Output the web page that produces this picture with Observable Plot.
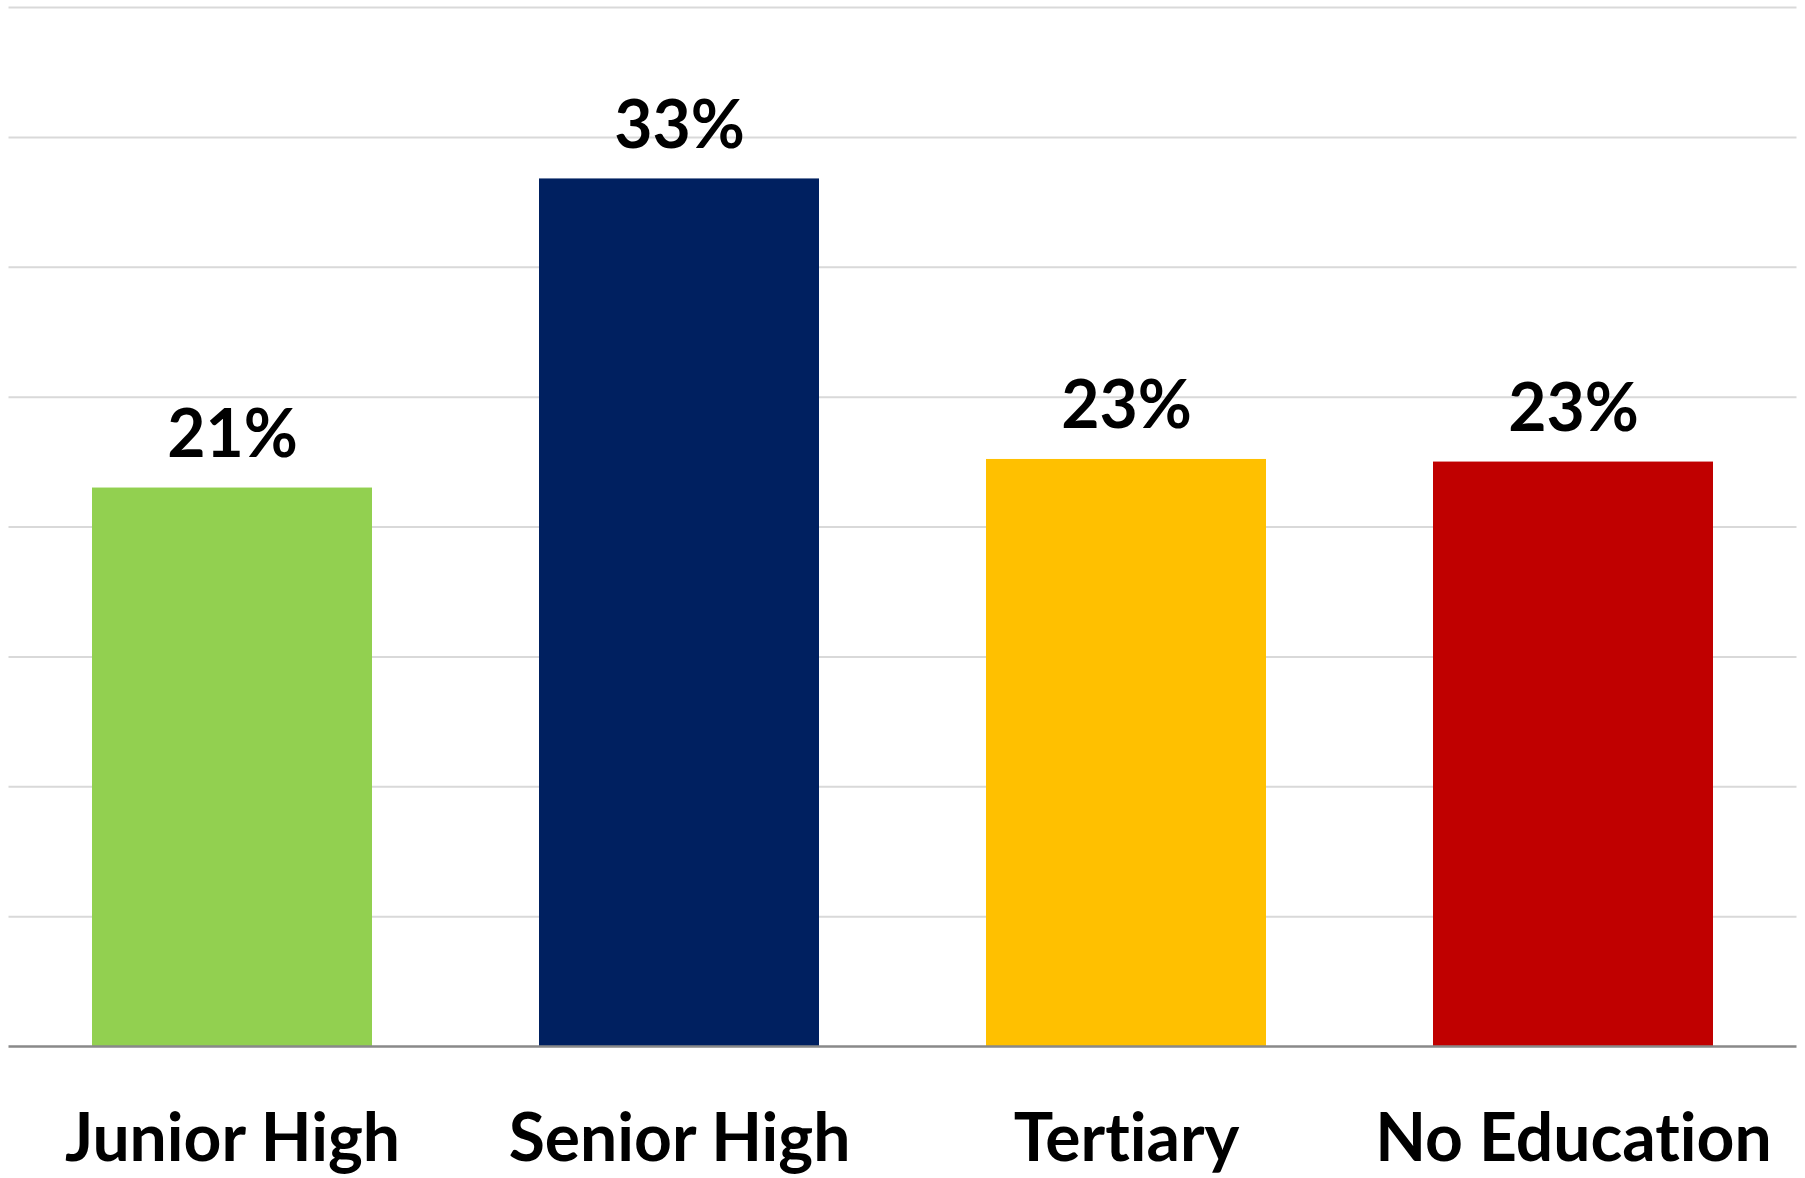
<!DOCTYPE html>
<html>
<head>
<meta charset="utf-8">
<script src="https://cdn.jsdelivr.net/npm/d3@7"></script>
<script src="https://cdn.jsdelivr.net/npm/@observablehq/plot@0.6"></script>
<style>
  html, body { margin: 0; padding: 0; background: #fff; }
  #chart svg { display: block; }
  #chart svg text { font-variant-ligatures: none; font-feature-settings: "liga" 0, "clig" 0; }
</style>
</head>
<body>
<div id="chart"></div>
<script>
const categories = ["Junior High", "Senior High", "Tertiary", "No Education"];
const values = [0.215, 0.334, 0.226, 0.225];
const valueLabels = ["21%", "33%", "23%", "23%"];
const colors = ["#92d050", "#002060", "#ffc000", "#c00000"];
const gridTicks = [0.05, 0.10, 0.15, 0.20, 0.25, 0.30, 0.35, 0.40];

const data = categories.map((c, i) => ({category: c, value: values[i], label: valueLabels[i], color: colors[i]}));
const font = "Lato, 'Open Sans', sans-serif";

const chart = Plot.plot({
  width: 1805,
  height: 1178,
  marginLeft: 8.5,
  marginRight: 8.5,
  marginTop: 7,
  marginBottom: 132,
  style: {fontFamily: font, background: "#fff"},
  x: {domain: categories, paddingInner: 0.374, paddingOuter: 0.187, axis: null},
  y: {domain: [0, 0.40], axis: null},
  marks: [
    Plot.ruleY(gridTicks, {stroke: "#d9d9d9", strokeWidth: 2}),
    Plot.barY(data, {x: "category", y: "value", fill: "color"}),
    Plot.ruleY([0], {stroke: "#898989", strokeWidth: 2.5}),
    Plot.text(data, {x: "category", y: "value", text: "label", lineAnchor: "bottom", dy: -31,
      fontSize: 66, fontWeight: "bold", fill: "#000"}),
    Plot.text(data, {x: "category", y: () => 0, text: "category", lineAnchor: "bottom", dy: 114,
      fontSize: 66, fontWeight: "bold", fill: "#000"})
  ]
});
document.getElementById("chart").appendChild(chart);
</script>
</body>
</html>
